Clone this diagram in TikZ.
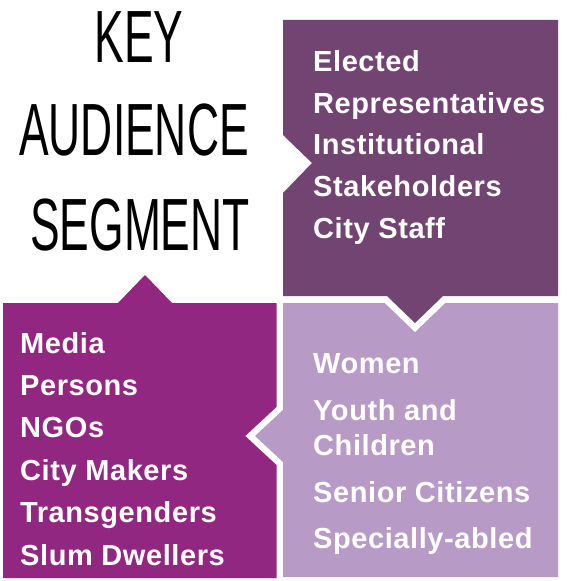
\documentclass[tikz,border=0pt]{standalone}
\usepackage{fontspec}
\usepackage{tikz}
\usetikzlibrary{calc}
\newfontfamily\itemfont[LetterSpace=2]{Liberation Sans}
\newfontfamily\titlefont[FakeStretch=0.6]{Liberation Sans}
\definecolor{segdark}{RGB}{114,68,114}
\definecolor{segmagenta}{RGB}{146,39,129}
\definecolor{seglight}{RGB}{184,154,199}

\begin{document}
\begin{tikzpicture}[x=1bp,y=-1bp,line join=miter,
  item/.style={anchor=base west,inner sep=0pt,text=white,font=\itemfont\bfseries\fontsize{29bp}{34bp}\selectfont},
  ttl/.style={anchor=base,inner sep=0pt,font=\titlefont\fontsize{74bp}{90bp}\selectfont},
  gap/.style={draw=white,line width=13bp}]%,y=1bp]
\useasboundingbox (0,0) rectangle (573,581);
% boxes
\fill [segmagenta] (3,303) -- (118,303) -- (145,275) -- (172,303) -- (283,303) -- (283,578) -- (3,578) -- cycle;
\draw [gap] (283,303) -- (558,303) -- (558,577) -- (283,577) -- (283,462) -- (255,436) -- (283,410) -- cycle;
\fill [seglight] (283,303) -- (558,303) -- (558,577) -- (283,577) -- (283,462) -- (255,436) -- (283,410) -- cycle;
\draw [gap] (283,20) -- (558,20) -- (558,296) -- (443,296) -- (415,323) -- (387,296) -- (283,296) -- (283,193) -- (312,163) -- (283,135) -- cycle;
\fill [segdark] (283,20) -- (558,20) -- (558,296) -- (443,296) -- (415,323) -- (387,296) -- (283,296) -- (283,193) -- (312,163) -- (283,135) -- cycle;
% title
\draw node [ttl] (T1) at (139,63) {KEY};
\draw node [ttl] (T2) at ($ (T1.base) + (-5,93) $) {AUDIENCE};
\draw node [ttl] (T3) at ($ (T2.base) + (6,94) $) {SEGMENT};
% top right
\draw node [item] (D1) at (313,72) {Elected};
\draw node [item] (D2) at ($ (D1.base west) + (0,41.5) $) {Representatives};
\draw node [item] (D3) at ($ (D2.base west) + (0,41.5) $) {Institutional};
\draw node [item] (D4) at ($ (D3.base west) + (0,41.5) $) {Stakeholders};
\draw node [item] (D5) at ($ (D4.base west) + (0,41.5) $) {City Staff};
% bottom left
\draw node [item] (M1) at (20,353) {Media};
\draw node [item] (M2) at ($ (M1.base west) + (0,42.4) $) {Persons};
\draw node [item] (M3) at ($ (M2.base west) + (0,42.4) $) {NGOs};
\draw node [item] (M4) at ($ (M3.base west) + (0,42.4) $) {City Makers};
\draw node [item] (M5) at ($ (M4.base west) + (0,42.4) $) {Transgenders};
\draw node [item] (M6) at ($ (M5.base west) + (0,42.4) $) {Slum Dwellers};
% bottom right
\draw node [item] (L1) at (313,373) {Women};
\draw node [item] (L2) at ($ (L1.base west) + (0,47) $) {Youth and};
\draw node [item] (L3) at ($ (L2.base west) + (0,35) $) {Children};
\draw node [item] (L4) at ($ (L3.base west) + (0,47) $) {Senior Citizens};
\draw node [item] (L5) at ($ (L4.base west) + (0,46) $) {Specially-abled};
\end{tikzpicture}
\end{document}
